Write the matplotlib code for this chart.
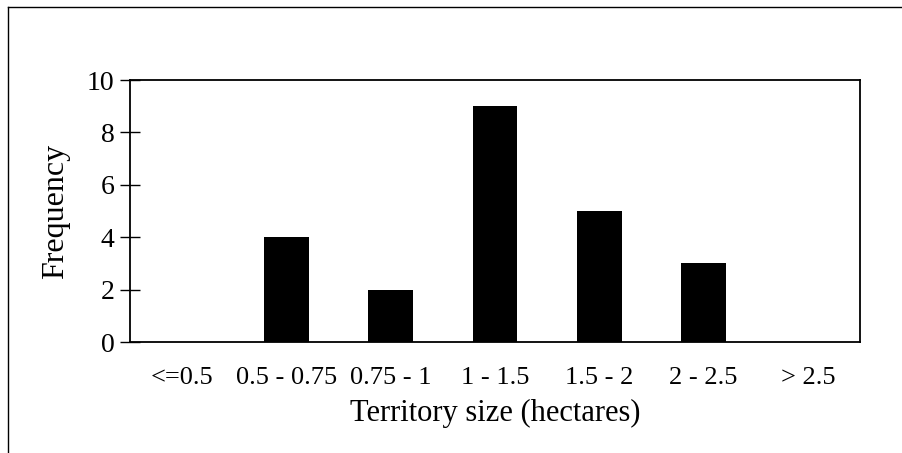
import numpy as np
import matplotlib.pyplot as plt
from matplotlib.lines import Line2D

categories = ['<=0.5', '0.5 - 0.75', '0.75 - 1', '1 - 1.5', '1.5 - 2', '2 - 2.5', '> 2.5']
frequency = [0, 4, 2, 9, 5, 3, 0]
yticks = [0, 2, 4, 6, 8, 10]

plt.rcParams['font.family'] = ['Liberation Serif', 'DejaVu Serif']

W, H = 903, 453
fig = plt.figure(figsize=(W / 100, H / 100), dpi=100)
ax = fig.add_axes([130 / W, 1 - 342 / H, 730 / W, 262 / H])

x = np.arange(len(categories))
ax.bar(x, frequency, width=0.43, color='black')
ax.set_xlim(-0.5, len(categories) - 0.5)
ax.set_ylim(0, 10)

ax.set_yticks(yticks)
ax.set_xticks(x)
ax.set_xticklabels(categories)
ax.tick_params(axis='y', direction='inout', length=14, width=1, labelsize=20, pad=4)
ax.tick_params(axis='x', length=0, labelsize=19, pad=18)
for s in ax.spines.values():
    s.set_linewidth(1.3)

ax.set_xlabel('Territory size (hectares)', fontsize=22, labelpad=7)
ax.set_ylabel('Frequency', fontsize=23, labelpad=12)

# outer frame
fig.add_artist(Line2D([8 / W, 8 / W], [0, 1 - 7 / H], color='black', lw=1, transform=fig.transFigure))
fig.add_artist(Line2D([8 / W, 1], [1 - 7 / H, 1 - 7 / H], color='black', lw=1, transform=fig.transFigure))

fig.savefig('out.png', dpi=100)
